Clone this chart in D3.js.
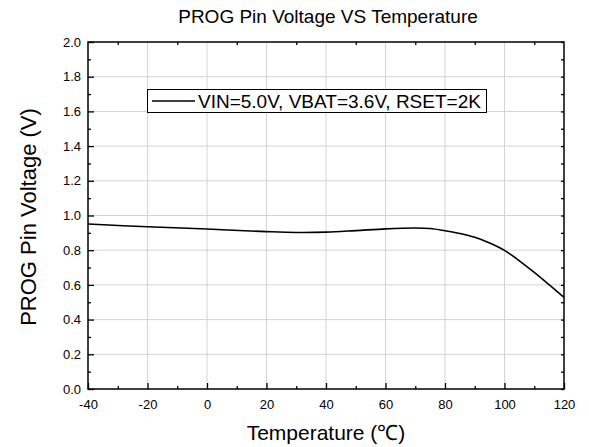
<!DOCTYPE html>
<html><head><meta charset="utf-8">
<script src="https://cdn.jsdelivr.net/npm/d3@7"></script>
<style>body{margin:0;background:#fff}svg{display:block}text{font-family:"Liberation Sans",Arial,sans-serif;fill:#000}</style>
</head><body><svg id="c" width="589" height="447"></svg>
<script>
const temps = [-40,-20,0,20,30,40,50,60,70,75,80,85,90,95,100,105,110,115,120];
const volts = [0.951,0.935,0.922,0.907,0.902,0.904,0.913,0.923,0.928,0.925,0.912,0.896,0.874,0.841,0.799,0.739,0.672,0.601,0.528];
const xTicks = [-40,-20,0,20,40,60,80,100,120];
const yTicks = [0.0,0.2,0.4,0.6,0.8,1.0,1.2,1.4,1.6,1.8,2.0];
const seriesLabel = "VIN=5.0V, VBAT=3.6V, RSET=2K";
const title = "PROG Pin Voltage VS Temperature";
const xTitle = "Temperature (\u2103)";
const yTitle = "PROG Pin Voltage (V)";

const svg = d3.select("#c");
const L=88,R=564,T=42,B=389;
const x = d3.scaleLinear().domain([-40,120]).range([L,R]);
const y = d3.scaleLinear().domain([0,2]).range([B,T]);
const xMinor = d3.range(-30,120,20);
const yMinor = d3.range(0.1,2.0,0.2);

// grid
svg.append("g").selectAll("line").data(xTicks.slice(1,-1)).join("line")
  .attr("x1",d=>x(d)).attr("x2",d=>x(d)).attr("y1",T).attr("y2",B)
  .attr("stroke","#d3d3d3").attr("stroke-width",1);
svg.append("g").selectAll("line").data(yTicks.slice(1,-1)).join("line")
  .attr("y1",d=>y(d)).attr("y2",d=>y(d)).attr("x1",L).attr("x2",R)
  .attr("stroke","#d3d3d3").attr("stroke-width",1);

// axes
function styleAxis(g){g.select(".domain").remove();g.selectAll("line").attr("stroke","#000").attr("stroke-width",1.3);}
const fs = "13px";
const fmtX = d => String(d);
const fmtY = d => d.toFixed(1);
svg.append("g").attr("transform",`translate(0,${B})`)
  .call(d3.axisBottom(x).tickValues(xTicks).tickSize(-6).tickPadding(11).tickFormat(fmtX))
  .call(styleAxis).selectAll("text").attr("font-size",fs).attr("font-family","Liberation Sans, Arial, sans-serif");
svg.append("g").attr("transform",`translate(0,${B})`)
  .call(d3.axisBottom(x).tickValues(xMinor).tickSize(-3).tickFormat(""))
  .call(styleAxis);
svg.append("g").attr("transform",`translate(${L},0)`)
  .call(d3.axisLeft(y).tickValues(yTicks).tickSize(-6).tickPadding(7).tickFormat(fmtY))
  .call(styleAxis).selectAll("text").attr("font-size",fs).attr("font-family","Liberation Sans, Arial, sans-serif");
svg.append("g").attr("transform",`translate(${L},0)`)
  .call(d3.axisLeft(y).tickValues(yMinor).tickSize(-3).tickFormat(""))
  .call(styleAxis);
svg.append("g").attr("transform",`translate(0,${T})`)
  .call(d3.axisTop(x).tickValues(xMinor).tickSize(-3).tickFormat(""))
  .call(styleAxis);
svg.append("g").attr("transform",`translate(${R},0)`)
  .call(d3.axisRight(y).tickValues(yTicks.concat(yMinor)).tickSize(-3).tickFormat(""))
  .call(styleAxis);

// frame
svg.append("rect").attr("x",L).attr("y",T).attr("width",R-L).attr("height",B-T)
  .attr("fill","none").attr("stroke","#000").attr("stroke-width",1.5);

// curve
const data = temps.map((t,i)=>({t,v:volts[i]}));
svg.append("path").datum(data)
  .attr("d",d3.line().x(d=>x(d.t)).y(d=>y(d.v)).curve(d3.curveCatmullRom.alpha(0.5)))
  .attr("fill","none").attr("stroke","#000").attr("stroke-width",1.6);

// legend
const lg = svg.append("g");
lg.append("rect").attr("x",147.5).attr("y",89.5).attr("width",339).attr("height",23)
  .attr("fill","#fff").attr("stroke","#000").attr("stroke-width",1);
lg.append("line").attr("x1",152).attr("x2",195).attr("y1",101).attr("y2",101)
  .attr("stroke","#000").attr("stroke-width",1.6);
lg.append("text").attr("x",198).attr("y",108).attr("font-size","19px").text(seriesLabel);

// titles
svg.append("text").attr("x",328).attr("y",23).attr("text-anchor","middle").attr("font-size","19px").text(title);
svg.append("text").attr("x",326).attr("y",440).attr("text-anchor","middle").attr("font-size","21px").text(xTitle);
svg.append("text").attr("transform","translate(36,217) rotate(-90)").attr("text-anchor","middle").attr("font-size","22px").text(yTitle);
</script></body></html>
